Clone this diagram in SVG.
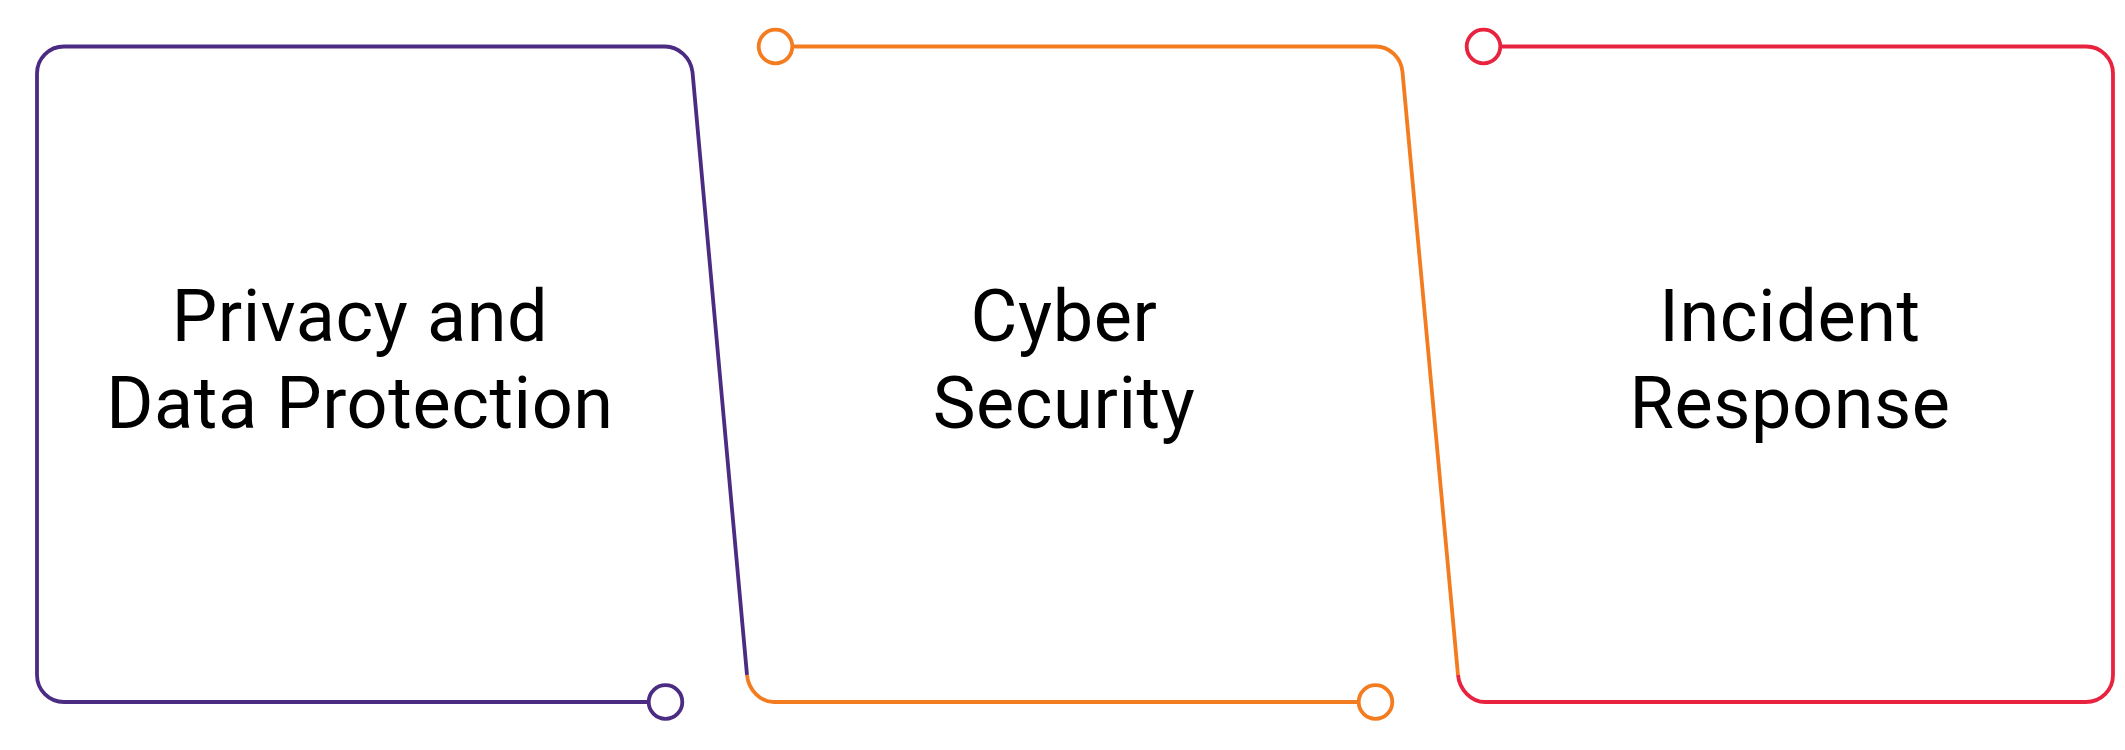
<svg xmlns="http://www.w3.org/2000/svg" width="2125" height="750" viewBox="0 0 2125 750">
<style>
.ln{fill:none;stroke-width:3.8;stroke-linejoin:round;stroke-linecap:butt}
.p{stroke:#4B2C82}
.o{stroke:#F47C20}
.r{stroke:#E8233F}
.dot{fill:#fff;stroke-width:3.8}
.t{font-family:Roboto,"Liberation Sans",sans-serif;font-size:72px;fill:#000;text-anchor:middle;letter-spacing:0.6px}
</style>
<rect width="2125" height="750" fill="#fff"/>
<g id="connectors">
<path class="ln p" d="M647 702 L64 702 C49 702 37 690 37 675 L37 73.5 C37 58.5 49 46.5 64 46.5 L665 46.5 C678.6 46.5 690.7 57.9 692.5 72 L747 675"/>
<path class="ln o" d="M747 675 C748.4 689.9 760.5 702 774 702 L1357 702"/>
<path class="ln o" d="M794 46.5 L1376 46.5 C1389.6 46.5 1401.2 57.9 1402.5 72 L1458 675"/>
<path class="ln r" d="M1458 675 C1459.4 689.9 1471.5 702 1485 702 L2086 702 C2101 702 2113 690 2113 675 L2113 73.5 C2113 58.5 2101 46.5 2086 46.5 L1502 46.5"/>
</g>
<g id="node-privacy">
<circle class="dot p" cx="665.5" cy="702" r="16.8"/>
<text class="t" x="360" y="341">Privacy and</text>
<text class="t" x="360" y="428">Data Protection</text>
</g>
<g id="node-cyber">
<circle class="dot o" cx="775.5" cy="46.5" r="16.8"/>
<circle class="dot o" cx="1375.5" cy="702" r="16.8"/>
<text class="t" x="1064" y="341">Cyber</text>
<text class="t" x="1064" y="428">Security</text>
</g>
<g id="node-incident">
<circle class="dot r" cx="1483.5" cy="46.5" r="16.8"/>
<text class="t" x="1790" y="341">Incident</text>
<text class="t" x="1790" y="428">Response</text>
</g>
</svg>
